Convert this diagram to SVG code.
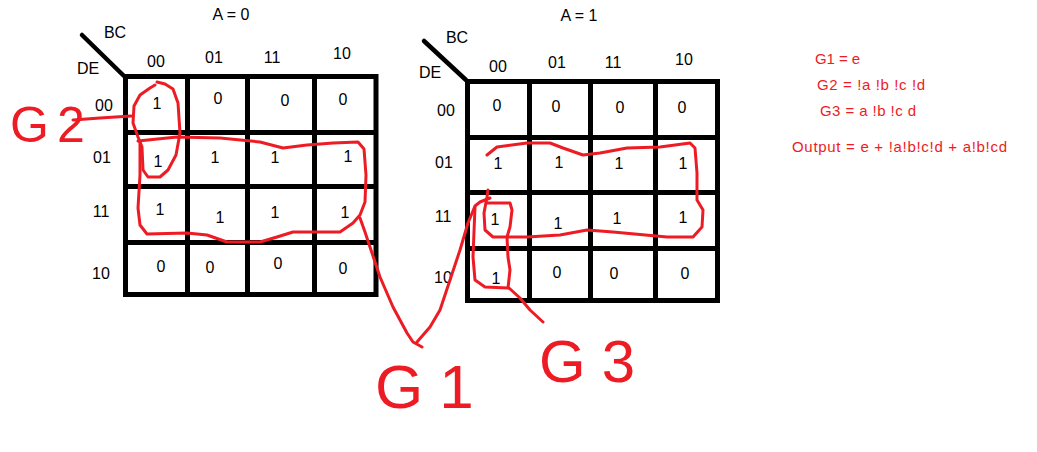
<svg xmlns="http://www.w3.org/2000/svg" width="1037" height="452" viewBox="0 0 1037 452">
<style>
.g{stroke:#000;stroke-width:5;fill:none;stroke-linecap:square}
.dg{stroke:#000;stroke-width:4.5;fill:none;stroke-linecap:round}
.t{font-family:"Liberation Sans",Arial,sans-serif;font-size:16px;fill:#000;text-anchor:middle}
.eq{font-family:"Liberation Sans",Arial,sans-serif;font-size:15px;fill:#ed1c24}
.r{stroke:#ed1c24;stroke-width:3;fill:none;stroke-linejoin:round;stroke-linecap:round}
.hg{font-family:"Liberation Sans",Arial,sans-serif;fill:#ed1c24}
</style>
<rect width="1037" height="452" fill="#fff"/>

<g id="kmap-a0">
  <path class="dg" d="M82,35 L124,76"/>
  <path class="g" d="M125.5,76.5 V294.5 M187.5,76.5 V294.5 M247.5,76.5 V294.5 M314.5,76.5 V294.5 M376,76.5 V294.5 M125.5,76.5 H376 M125.5,132.5 H376 M125.5,186.5 H376 M125.5,242.5 H376 M125.5,294.5 H376"/>
  <text class="t" x="231" y="20">A = 0</text>
  <text class="t" x="115" y="38">BC</text>
  <text class="t" x="88" y="74">DE</text>
  <text class="t" x="156" y="67">00</text>
  <text class="t" x="214" y="63">01</text>
  <text class="t" x="272" y="63">11</text>
  <text class="t" x="342" y="59">10</text>
  <text class="t" x="104" y="111">00</text>
  <text class="t" x="102" y="163">01</text>
  <text class="t" x="101" y="217">11</text>
  <text class="t" x="101" y="279">10</text>
  <text class="t" x="157" y="109">1</text>
  <text class="t" x="218" y="104">0</text>
  <text class="t" x="285" y="106">0</text>
  <text class="t" x="343" y="105">0</text>
  <text class="t" x="158" y="167">1</text>
  <text class="t" x="215" y="163">1</text>
  <text class="t" x="275" y="163">1</text>
  <text class="t" x="348" y="162">1</text>
  <text class="t" x="160" y="215">1</text>
  <text class="t" x="220" y="223">1</text>
  <text class="t" x="275" y="218">1</text>
  <text class="t" x="345" y="218">1</text>
  <text class="t" x="161" y="272">0</text>
  <text class="t" x="210" y="273">0</text>
  <text class="t" x="278" y="269">0</text>
  <text class="t" x="343" y="274">0</text>
</g>

<g id="kmap-a1">
  <path class="dg" d="M424,41 L466,80"/>
  <path class="g" d="M467.5,81.5 V300.5 M529.5,81.5 V300.5 M590.5,81.5 V300.5 M655.5,81.5 V300.5 M717.5,81.5 V300.5 M467.5,81.5 H717.5 M467.5,137.5 H717.5 M467.5,192.5 H717.5 M467.5,248.5 H717.5 M467.5,300.5 H717.5"/>
  <text class="t" x="579" y="21">A = 1</text>
  <text class="t" x="457" y="43">BC</text>
  <text class="t" x="430" y="78">DE</text>
  <text class="t" x="498" y="72">00</text>
  <text class="t" x="557" y="68">01</text>
  <text class="t" x="613" y="68">11</text>
  <text class="t" x="684" y="65">10</text>
  <text class="t" x="446" y="116">00</text>
  <text class="t" x="444" y="168">01</text>
  <text class="t" x="443" y="222">11</text>
  <text class="t" x="443" y="283">10</text>
  <text class="t" x="497" y="111">0</text>
  <text class="t" x="556" y="112">0</text>
  <text class="t" x="620" y="113">0</text>
  <text class="t" x="682" y="113">0</text>
  <text class="t" x="498" y="169">1</text>
  <text class="t" x="559" y="168">1</text>
  <text class="t" x="619" y="169">1</text>
  <text class="t" x="683" y="169">1</text>
  <text class="t" x="495" y="225">1</text>
  <text class="t" x="558" y="229">1</text>
  <text class="t" x="617" y="224">1</text>
  <text class="t" x="683" y="223">1</text>
  <text class="t" x="496" y="284">1</text>
  <text class="t" x="557" y="278">0</text>
  <text class="t" x="614" y="279">0</text>
  <text class="t" x="685" y="279">0</text>
</g>

<g id="equations">
  <text class="eq" x="815" y="64" textLength="45" lengthAdjust="spacing">G1 = e</text>
  <text class="eq" x="817" y="90" textLength="108" lengthAdjust="spacing">G2 =  !a !b !c !d</text>
  <text class="eq" x="820" y="116" textLength="96" lengthAdjust="spacing">G3 = a !b !c d</text>
  <text class="eq" x="792" y="152" textLength="215" lengthAdjust="spacing">Output = e + !a!b!c!d + a!b!cd</text>
</g>

<g id="groupings">
  <path id="loop-g2" class="r" d="M155,85 L150,88 L140,95 L134,106 L133,123 L138,137 L142,147 L143,170 L148,177 L160,177 L168,170 L176,155 L180,133 L178,103 L173,89 L165,84 L157,82"/>
  <path id="loop-g1-left" class="r" d="M138,141 L177,137 L220,138 L260,142 L283,148 L307,145 L333,143 L358,142 L364,149 L366,175 L365,202 L360,215 L353,223 L340,232 L293,232 L277,237 L260,242 L227,242 L207,235 L187,233 L147,234 L140,225 L138,208 L140,175 L140,142"/>
  <path id="loop-g1-right" class="r" d="M487,155 L497,147 L527,143 L550,143 L563,148 L583,155 L600,153 L627,148 L660,147 L690,143 L695,148 L697,173 L697,200 L703,210 L702,227 L693,237 L667,237 L613,232 L587,230 L560,235 L527,237 L493,237 L485,230 L484,213 L487,197 L488,190"/>
  <path id="loop-g3" class="r" d="M475,207 L473,257 L475,280 L485,287 L508,288 L510,270 L508,257 L507,237 L510,227 L512,210 L510,203 L487,203"/>
</g>

<g id="connectors">
  <path class="r" d="M73,120 L100,118 L131,116"/>
  <path class="r" d="M360,218 L365,232 L372,253 L380,277 L393,307 L407,333 L413,342 L422,347"/>
  <path class="r" d="M417,342 L430,327 L440,310 L450,280 L460,250 L468,223 L475,206 L480,202 L490,198"/>
  <path class="r" d="M509,288 L520,298 L530,310 L543,322"/>
</g>

<g id="group-labels">
  <text class="hg" x="10" y="142" font-size="50">G<tspan dx="8">2</tspan></text>
  <text class="hg" x="375" y="408" font-size="62">G<tspan dx="16">1</tspan></text>
  <text class="hg" x="539" y="382" font-size="60">G<tspan dx="16">3</tspan></text>
</g>
</svg>
